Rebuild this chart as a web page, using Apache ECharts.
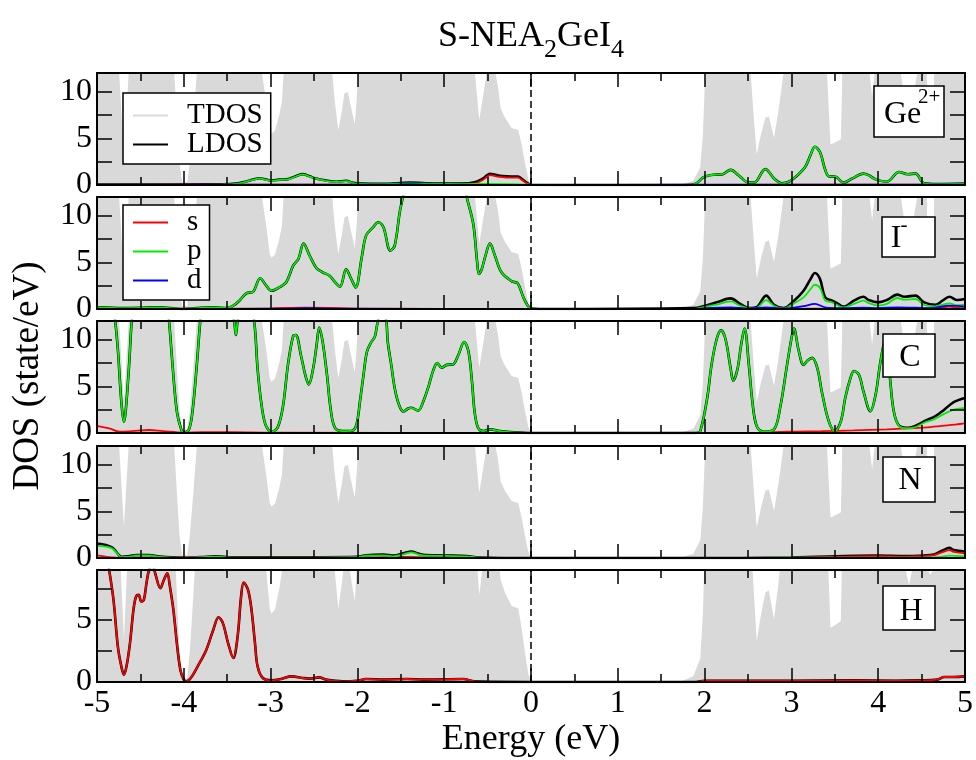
<!DOCTYPE html>
<html>
<head>
<meta charset="utf-8">
<script src="https://cdn.jsdelivr.net/npm/echarts@6/dist/echarts.min.js"></script>
<style>
  html, body { margin: 0; padding: 0; background: #fff; }
  #chart { width: 976px; height: 760px; }
</style>
</head>
<body>
<div id="chart"></div>
<script>
const tdos = [
    [-5.0, 15], [-4.77, 15], [-4.745, 12], [-4.69, 3.4], [-4.635, 12], [-4.61, 15],
    [-4.14, 15], [-4.11, 12], [-4.08, 7], [-4.05, 2.5], [-4.02, 0.3], [-3.96, 0.3], [-3.93, 2.5], [-3.89, 7], [-3.85, 12], [-3.82, 15],
    [-3.13, 15], [-3.10, 12], [-3.05, 8.9], [-3.01, 5.9], [-2.99, 5.5], [-2.95, 5.8], [-2.90, 7.5], [-2.87, 8.9], [-2.85, 12], [-2.82, 15],
    [-2.31, 15], [-2.29, 12], [-2.26, 8.9], [-2.22, 5.9], [-2.18, 7.9], [-2.15, 9.8], [-2.11, 10.0], [-2.08, 8.6], [-2.03, 6.5], [-2.01, 8.9], [-1.99, 12], [-1.97, 15],
    [-0.67, 15], [-0.646, 12], [-0.596, 7.0], [-0.51, 12], [-0.49, 15],
    [-0.43, 15], [-0.41, 12], [-0.377, 10.35], [-0.35, 8.2], [-0.30, 7.2], [-0.223, 6.1], [-0.146, 5.9], [-0.11, 4.4], [-0.07, 2.4], [-0.03, 0.6], [0.0, 0.1], [0.04, 0],
    [1.65, 0], [1.72, 0.03], [1.87, 0.46], [1.95, 1.87], [1.98, 5.4], [2.0, 10.35], [2.01, 12], [2.03, 15],
    [2.51, 15], [2.53, 12], [2.565, 7.5], [2.60, 3.3], [2.65, 5.4], [2.70, 7.2], [2.74, 7.35], [2.80, 5.05], [2.85, 7.9], [2.91, 12], [2.93, 15],
    [3.39, 15], [3.41, 12], [3.45, 4.35], [3.49, 4.5], [3.57, 4.9], [3.58, 8.9], [3.585, 12], [3.60, 15],
    [3.89, 15], [3.90, 12], [3.93, 9.5], [3.96, 12], [3.97, 15],
    [4.24, 15], [4.26, 12], [4.30, 9.5], [4.355, 7.8], [4.40, 9.3], [4.45, 12], [4.47, 15],
    [4.555, 15], [4.565, 9.1], [4.60, 8.6], [4.64, 9.1], [4.65, 15],
    [5.0, 15]
];

// Ge2+
const geS = [[-5, 0.02], [-2, 0.03], [-0.8, 0.05], [-0.65, 0.15], [-0.56, 0.5], [-0.5, 0.92], [-0.47, 1.05], [-0.42, 0.98],
    [-0.36, 0.86], [-0.28, 0.8], [-0.2, 0.78], [-0.15, 0.78], [-0.1, 0.52], [-0.05, 0.18], [0, 0.02], [0.5, 0], [2, 0.02], [5, 0.03]];
const geP = [[-5, 0.02], [-4, 0.02], [-3.55, 0.05], [-3.4, 0.12], [-3.28, 0.35], [-3.2, 0.55], [-3.13, 0.7], [-3.05, 0.55],
    [-2.99, 0.45], [-2.9, 0.55], [-2.8, 0.6], [-2.74, 0.8], [-2.63, 1.13], [-2.55, 0.9], [-2.49, 0.7], [-2.36, 0.45],
    [-2.24, 0.32], [-2.13, 0.42], [-2.05, 0.2], [-1.95, 0.12], [-1.7, 0.1], [-1.4, 0.18], [-1.1, 0.12], [-0.8, 0.1],
    [-0.5, 0.12], [-0.2, 0.1], [-0.05, 0.05], [0, 0], [1.8, 0], [1.9, 0.15], [1.99, 0.85], [2.1, 1.1], [2.2, 1.13],
    [2.3, 1.62], [2.39, 1.05], [2.51, 0.25], [2.57, 0.25], [2.70, 1.7], [2.80, 0.7], [2.89, 0.18], [2.97, 0.35],
    [3.07, 1.05], [3.16, 1.95], [3.22, 3.2], [3.27, 4.1], [3.33, 3.5], [3.39, 1.6], [3.43, 0.95], [3.51, 0.89],
    [3.60, 0.25], [3.70, 0.7], [3.83, 1.22], [3.89, 1.05], [3.97, 0.6], [4.1, 0.35], [4.24, 1.4], [4.34, 1.15],
    [4.43, 1.22], [4.53, 0.18], [4.68, 0.1], [5, 0.15]];
const geD = [[-5, 0.02], [-1.6, 0.05], [-1.4, 0.1], [-1.2, 0.05], [0, 0], [2, 0.03], [5, 0.03]];
const geLdosVb = [[-5, 0.05], [-3.55, 0.08], [-3.4, 0.15], [-3.28, 0.38], [-3.2, 0.58], [-3.13, 0.73], [-3.05, 0.58],
    [-2.99, 0.48], [-2.9, 0.58], [-2.8, 0.63], [-2.74, 0.83], [-2.63, 1.16], [-2.55, 0.93], [-2.49, 0.73], [-2.36, 0.48],
    [-2.24, 0.35], [-2.13, 0.45], [-2.05, 0.23], [-1.95, 0.15], [-1.7, 0.13], [-1.4, 0.25], [-1.1, 0.15], [-0.8, 0.15],
    [-0.65, 0.28], [-0.56, 0.65], [-0.5, 1.08], [-0.47, 1.2], [-0.42, 1.12], [-0.36, 1.0], [-0.28, 0.93], [-0.2, 0.9],
    [-0.15, 0.9], [-0.1, 0.6], [-0.05, 0.25], [0, 0.02], [0.5, 0]];

// I-
const iS = [[-5, 0.02], [-3.0, 0.03], [-2.95, 0.1], [-2.6, 0.15], [-2.2, 0.1], [-2.0, 0.03], [0, 0], [1.9, 0], [2.3, 0.05],
    [4.5, 0.05], [4.7, 0.12], [4.82, 0.25], [4.92, 0.12], [5, 0.1]];
const iP = [[-5, 0.18], [-4.7, 0.1], [-4.5, 0.12], [-4.3, 0.18], [-4.15, 0.1], [-4.0, 0], [-3.85, 0.1], [-3.65, 0.18],
    [-3.5, 0.1], [-3.43, 0.36], [-3.36, 0.89], [-3.28, 1.68], [-3.2, 1.86], [-3.12, 3.3], [-3.05, 2.5], [-2.99, 1.96],
    [-2.9, 2.32], [-2.82, 2.86], [-2.74, 4.64], [-2.68, 5.36], [-2.62, 7.0], [-2.55, 5.71], [-2.47, 4.36], [-2.40, 3.93],
    [-2.32, 3.57], [-2.26, 2.9], [-2.20, 2.39], [-2.13, 4.25], [-2.07, 3.2], [-2.02, 2.32], [-1.95, 5.54], [-1.90, 7.86],
    [-1.82, 8.75], [-1.76, 9.29], [-1.70, 8.75], [-1.62, 6.25], [-1.57, 6.79], [-1.51, 10.5], [-1.46, 12.6], [-1.40, 15],
    [-1.0, 16], [-0.8, 15], [-0.74, 12.0], [-0.665, 9.1], [-0.62, 5], [-0.60, 3.75], [-0.57, 4.2], [-0.53, 5.54],
    [-0.473, 7.0], [-0.415, 5.71], [-0.34, 3.93], [-0.22, 2.96], [-0.154, 2.75], [-0.088, 1.25], [-0.04, 0.4], [0, 0.05],
    [0.1, 0], [1.87, 0], [2.01, 0.25], [2.14, 0.46], [2.30, 0.82], [2.41, 0.35], [2.53, 0.05], [2.6, 0.1], [2.71, 0.96],
    [2.8, 0.32], [2.91, 0.05], [3.03, 0.6], [3.14, 1.25], [3.22, 2.14], [3.27, 2.6], [3.33, 2.25], [3.39, 0.89],
    [3.47, 0.71], [3.60, 0.18], [3.72, 0.54], [3.83, 0.89], [3.89, 0.64], [4.0, 0.36], [4.1, 0.54], [4.22, 1.18],
    [4.30, 1.0], [4.43, 1.07], [4.53, 0.43], [4.66, 0.29], [4.74, 0.45], [4.82, 0.6], [4.91, 0.4], [5, 0.46]];
const iD = [[-5, 0.02], [-2.8, 0.03], [-2.6, 0.08], [-2.3, 0.05], [0, 0], [1.9, 0], [2.01, 0.1], [2.3, 0.18], [2.5, 0.05],
    [2.71, 0.18], [2.9, 0.05], [3.14, 0.3], [3.27, 0.54], [3.4, 0.15], [3.6, 0.08], [3.83, 0.15], [4.0, 0.1], [4.22, 0.18],
    [4.43, 0.15], [4.6, 0.1], [4.82, 0.36], [5, 0.25]];
const iLdosCb = [[1.87, 0.1], [2.01, 0.36], [2.14, 0.71], [2.30, 1.14], [2.41, 0.54], [2.53, 0.1], [2.6, 0.2], [2.71, 1.43],
    [2.8, 0.46], [2.91, 0.1], [3.03, 0.89], [3.14, 1.96], [3.22, 3.2], [3.27, 3.86], [3.33, 3.2], [3.39, 1.25], [3.47, 0.89],
    [3.53, 0.6], [3.60, 0.25], [3.72, 0.89], [3.83, 1.32], [3.89, 0.96], [4.0, 0.71], [4.1, 0.96], [4.22, 1.54], [4.30, 1.32],
    [4.43, 1.43], [4.53, 0.71], [4.66, 0.46], [4.74, 0.89], [4.82, 1.32], [4.91, 0.96], [5, 1.07]];

// C
const cS = [[-5, 0.74], [-4.86, 0.5], [-4.74, 0.14], [-4.6, 0.2], [-4.4, 0.32], [-4.24, 0.2], [-4.0, 0.05], [-3.8, 0.1],
    [-3.4, 0.08], [-3.0, 0.03], [0, 0], [1.9, 0], [2.6, 0.02], [2.95, 0.14], [3.35, 0.2], [3.72, 0.28], [4.1, 0.39],
    [4.33, 0.5], [4.6, 0.64], [4.8, 0.81], [5, 1.02]];
const cP = [[-5, 15], [-4.82, 14], [-4.79, 12], [-4.76, 9.0], [-4.72, 3.4], [-4.69, 1.2], [-4.67, 2.3], [-4.63, 7.3],
    [-4.60, 12], [-4.57, 14], [-4.4, 16], [-4.2, 14], [-4.17, 12], [-4.13, 7.3], [-4.08, 2.3], [-4.03, 0.4], [-4.0, 0.03],
    [-3.94, 0.4], [-3.90, 2.3], [-3.85, 7.3], [-3.81, 12], [-3.78, 14], [-3.6, 16], [-3.45, 13], [-3.42, 12], [-3.40, 10.5],
    [-3.38, 12], [-3.35, 13], [-3.25, 14], [-3.19, 12], [-3.15, 6.9], [-3.11, 3.4], [-3.06, 0.92], [-2.99, 0.14],
    [-2.92, 0.57], [-2.86, 2.7], [-2.80, 7.3], [-2.74, 10.4], [-2.71, 10.5], [-2.65, 8.3], [-2.60, 6.2], [-2.56, 5.2],
    [-2.51, 6.9], [-2.47, 9.4], [-2.44, 11.3], [-2.40, 9.75], [-2.35, 6.2], [-2.31, 2.7], [-2.26, 0.57], [-2.17, 0.2],
    [-2.06, 0.25], [-2.01, 0.92], [-1.97, 3.4], [-1.93, 6.2], [-1.89, 8.7], [-1.84, 9.75], [-1.80, 10.3], [-1.78, 11.2],
    [-1.76, 12.2], [-1.72, 13.5], [-1.67, 12.2], [-1.65, 9.75], [-1.61, 7.3], [-1.57, 4.8], [-1.52, 3.0], [-1.47, 2.3],
    [-1.42, 2.6], [-1.38, 2.7], [-1.30, 2.4], [-1.24, 3.4], [-1.18, 5.0], [-1.13, 6.6], [-1.08, 7.5], [-1.03, 7.0],
    [-0.97, 7.3], [-0.90, 7.35], [-0.84, 8.3], [-0.77, 9.75], [-0.72, 8.7], [-0.68, 5.5], [-0.65, 2.3], [-0.61, 0.57],
    [-0.55, 0.2], [-0.47, 0.39], [-0.36, 0.2], [-0.24, 0.1], [0, 0], [1.9, 0], [1.95, 0.2], [2.03, 3.75], [2.08, 7.3],
    [2.14, 10.1], [2.19, 11.0], [2.24, 10.1], [2.30, 6.9], [2.33, 5.6], [2.38, 6.9], [2.42, 9.4], [2.46, 11.2], [2.51, 7.3],
    [2.55, 3.4], [2.60, 0.74], [2.68, 0.14], [2.80, 0.39], [2.87, 2.7], [2.95, 7.3], [3.0, 10.1], [3.03, 11.2], [3.08, 9.0],
    [3.14, 7.3], [3.19, 7.8], [3.24, 8.05], [3.30, 6.9], [3.35, 4.45], [3.43, 1.27], [3.50, 0.2], [3.57, 1.27], [3.62, 3.75],
    [3.68, 5.87], [3.72, 6.64], [3.78, 6.2], [3.83, 4.45], [3.91, 2.33], [3.97, 4.1], [4.02, 7.3], [4.07, 9.75], [4.10, 10.2],
    [4.12, 8], [4.14, 5.5], [4.18, 2.3], [4.24, 0.74], [4.33, 0.5], [4.41, 0.57], [4.53, 1.1], [4.64, 1.45], [4.76, 2.05],
    [4.87, 2.5], [5, 2.7]];
const cLdosTail = [[4.24, 0.8], [4.35, 0.57], [4.45, 0.85], [4.55, 1.34], [4.66, 1.8], [4.76, 2.5], [4.87, 3.3], [5, 3.75]];

// N
const nS = [[-5, 0.28], [-4.86, 0.1], [-4.7, 0.03], [-1.9, 0.05], [-1.7, 0.1], [-1.4, 0.12], [-1.2, 0.05], [0, 0], [1.9, 0],
    [3.0, 0.02], [4.0, 0.2], [4.3, 0.15], [4.53, 0.2], [4.64, 0.3], [4.74, 0.62], [4.82, 0.85], [4.87, 0.65], [5, 0.5]];
const nP = [[-5, 1.3], [-4.9, 1.22], [-4.82, 1.0], [-4.76, 0.4], [-4.72, 0.1], [-4.62, 0.15], [-4.55, 0.28], [-4.40, 0.28],
    [-4.28, 0.12], [-4.0, 0.02], [-3.8, 0.08], [-3.63, 0.15], [-3.45, 0.05], [-2.5, 0.05], [-2.0, 0.08], [-1.90, 0.25],
    [-1.70, 0.28], [-1.59, 0.18], [-1.45, 0.45], [-1.38, 0.6], [-1.30, 0.4], [-1.24, 0.28], [-1.0, 0.22], [-0.74, 0.18],
    [-0.6, 0.05], [0, 0], [1.9, 0], [3.0, 0.03], [4.5, 0.05], [4.74, 0.15], [4.82, 0.25], [5, 0.18]];
const nLdos = [[-5, 1.55], [-4.9, 1.4], [-4.82, 1.1], [-4.76, 0.45], [-4.72, 0.12], [-4.62, 0.2], [-4.55, 0.32], [-4.40, 0.32],
    [-4.28, 0.15], [-4.0, 0.03], [-3.8, 0.1], [-3.63, 0.18], [-3.45, 0.07], [-2.5, 0.08], [-2.0, 0.12], [-1.90, 0.3],
    [-1.70, 0.36], [-1.59, 0.25], [-1.45, 0.55], [-1.38, 0.7], [-1.30, 0.48], [-1.24, 0.33], [-1.0, 0.27], [-0.74, 0.2],
    [-0.6, 0.06], [0, 0], [1.9, 0], [3.0, 0.05], [4.0, 0.25], [4.3, 0.2], [4.53, 0.27], [4.64, 0.38], [4.74, 0.8],
    [4.82, 1.08], [4.87, 0.85], [5, 0.68]];

// H (s only)
const hS = [[-5, 13], [-4.90, 10.5], [-4.86, 9.0], [-4.81, 6.6], [-4.76, 2.86], [-4.72, 1.26], [-4.69, 0.59], [-4.66, 1.26],
    [-4.62, 3.13], [-4.58, 5.8], [-4.55, 6.87], [-4.52, 7.0], [-4.49, 6.47], [-4.46, 6.6], [-4.43, 7.94], [-4.40, 9.0],
    [-4.36, 9.4], [-4.33, 8.74], [-4.27, 7.54], [-4.23, 8.2], [-4.19, 8.74], [-4.16, 7.67], [-4.12, 5.8], [-4.08, 3.13],
    [-4.04, 0.99], [-4.0, 0.19], [-3.97, 0.05], [-3.92, 0.32], [-3.84, 1.26], [-3.74, 2.6], [-3.66, 4.2], [-3.60, 5.2],
    [-3.55, 4.73], [-3.49, 3.13], [-3.43, 1.93], [-3.38, 3.66], [-3.34, 6.87], [-3.31, 8.0], [-3.26, 7.4], [-3.22, 5.8],
    [-3.18, 3.13], [-3.15, 1.26], [-3.09, 0.32], [-2.99, 0.13], [-2.88, 0.24], [-2.76, 0.45], [-2.63, 0.32], [-2.55, 0.27],
    [-2.44, 0.37], [-2.36, 0.19], [-2.17, 0.05], [-2.0, 0.1], [-1.90, 0.24], [-1.70, 0.19], [-1.43, 0.24], [-1.24, 0.19],
    [-0.78, 0.24], [-0.65, 0.05], [0, 0], [1.9, 0], [2.0, 0.1], [3.0, 0.1], [3.72, 0.13], [4.2, 0.1], [4.49, 0.13],
    [4.68, 0.19], [4.76, 0.4], [4.87, 0.4], [5, 0.45]];

const yMax = [12, 12, 12, 12, 9];
const xTicks = { min: -5, max: 5, step: 1 };

const FONT = 'Liberation Serif';
const GRID_TOPS = [73, 197, 321, 446, 570];
const GRID_H = 112;

// H has only s states: its LDOS is the s curve itself
const panels = [
    { ldos: geLdosVb.concat(geP.filter(pt => pt[0] > 1)), s: geS, p: geP, d: geD },
    { ldos: iP.filter(pt => pt[0] < 1).concat(iLdosCb), s: iS, p: iP, d: iD },
    { ldos: cP.filter(pt => pt[0] < 4.2).concat(cLdosTail), s: cS, p: cP },
    { ldos: nLdos, s: nS, p: nP },
    { ldos: hS, s: hS }
];

const black = '#000';

function xAxisFor(i, pos) {
    const labelled = i === 4 && pos === 'bottom';
    return {
        type: 'value', gridIndex: i, position: pos,
        min: xTicks.min, max: xTicks.max, interval: xTicks.step,
        axisLine: { show: true, onZero: false, lineStyle: { color: black, width: 2 } },
        axisTick: { show: true, inside: true, length: 14, lineStyle: { color: black, width: 1.5 } },
        minorTick: { show: true, splitNumber: 2, length: 8, lineStyle: { color: black, width: 1.5 } },
        splitLine: { show: false },
        minorSplitLine: { show: false },
        axisLabel: {
            show: labelled, color: black, fontFamily: FONT, fontSize: 32, margin: 6,
            showMinLabel: true, showMaxLabel: true
        },
        name: labelled ? 'Energy (eV)' : '',
        nameLocation: 'middle', nameGap: 40,
        nameTextStyle: { color: black, fontFamily: FONT, fontSize: 36 },
        z: 5
    };
}

function yAxisFor(i, pos) {
    return {
        type: 'value', gridIndex: i, position: pos,
        min: 0, max: yMax[i], interval: 2.5,
        axisLine: { show: true, onZero: false, lineStyle: { color: black, width: 2 } },
        axisTick: { show: true, inside: true, length: 15, lineStyle: { color: black, width: 1.5 } },
        splitLine: { show: false },
        axisLabel: {
            show: pos === 'left', color: black, fontFamily: FONT, fontSize: 32, margin: 5,
            formatter: v => (v % 5 === 0 ? String(v) : '')
        },
        z: 5
    };
}

const grids = [], xAxes = [], yAxes = [], series = [];
panels.forEach((pn, i) => {
    grids.push({ left: 97, right: 11, top: GRID_TOPS[i], height: GRID_H, outerBoundsMode: 'none' });
    xAxes.push(xAxisFor(i, 'bottom'), xAxisFor(i, 'top'));
    yAxes.push(yAxisFor(i, 'left'), yAxisFor(i, 'right'));
    const ax = { xAxisIndex: 2 * i, yAxisIndex: 2 * i };

    series.push({
        name: 'TDOS', type: 'line', ...ax, data: tdos, z: 1, silent: true,
        showSymbol: false, lineStyle: { width: 0, opacity: 0 },
        itemStyle: { color: '#d9d9d9' },
        areaStyle: { color: '#d9d9d9', opacity: 1 }
    });
    series.push({
        name: 'LDOS', type: 'line', ...ax, data: pn.ldos, z: 2, silent: true,
        showSymbol: false, smooth: 0.35,
        itemStyle: { color: black }, lineStyle: { color: black, width: 2.6 },
        markLine: {
            silent: true, symbol: ['none', 'none'], label: { show: false },
            lineStyle: { color: black, width: 1.5, type: [7, 4] },
            data: [{ xAxis: 0 }]
        }
    });
    [['s', '#ff0000'], ['p', '#00ee00'], ['d', '#0000ff']].forEach(([k, col]) => {
        if (!pn[k]) return;
        series.push({
            name: k, type: 'line', ...ax, data: pn[k], z: 3, silent: true,
            showSymbol: false, smooth: 0.35,
            itemStyle: { color: col }, lineStyle: { color: col, width: 1.8 }
        });
    });
});

const legendBase = {
    orient: 'vertical', itemGap: 0, itemWidth: 35, itemHeight: 2, icon: 'rect',
    selectedMode: false, borderColor: black, borderWidth: 1.5, backgroundColor: '#fff',
    textStyle: { fontFamily: FONT, fontSize: 29, color: black, lineHeight: 28, padding: [0, 0, 0, 14] },
    z: 10
};

function labelBox(x, y, w, h, texts) {
    return [{ type: 'rect', z: 10, shape: { x, y, width: w, height: h },
        style: { fill: '#fff', stroke: black, lineWidth: 1.5 } }].concat(texts.map(t => ({
        type: 'text', z: 11, x: t[1], y: t[2],
        style: { text: t[0], fontFamily: FONT, fontSize: t[3], fill: black,
            align: t[4] || 'center', verticalAlign: 'middle' }
    })));
}

const graphic = [
    {
        type: 'text', x: 531, y: 19, z: 10,
        style: {
            text: '{a|S-NEA}{b|2}{a|GeI}{b|4}', align: 'center', verticalAlign: 'top', fill: black,
            rich: {
                a: { fontFamily: FONT, fontSize: 36, lineHeight: 36, verticalAlign: 'top', fill: black },
                b: { fontFamily: FONT, fontSize: 26, lineHeight: 26, padding: [18, 0, 0, 0], verticalAlign: 'top', fill: black }
            }
        }
    },
    {
        type: 'text', x: 28, y: 376, rotation: Math.PI / 2, z: 10,
        style: { text: 'DOS (state/eV)', fontFamily: FONT, fontSize: 37, fill: black, align: 'center', verticalAlign: 'middle' }
    }
].concat(
    labelBox(874, 86, 70, 51, [['Ge', 884, 115, 32, 'left'], ['2+', 918, 97, 21, 'left']]),
    labelBox(882, 217, 53, 40, [['I', 896, 239, 32], ['-', 904, 225, 21]]),
    labelBox(883, 334, 52, 43, [['C', 910, 358, 32]]),
    labelBox(883, 457, 52, 45, [['N', 910, 481, 32]]),
    labelBox(883, 586, 52, 44, [['H', 911, 612, 32]])
);

const chart = echarts.init(document.getElementById('chart'));
chart.setOption({
    animation: false,
    backgroundColor: '#fff',
    grid: grids,
    xAxis: xAxes,
    yAxis: yAxes,
    legend: [
        Object.assign({}, legendBase, { data: ['TDOS', 'LDOS'], left: 123, top: 93, padding: [8, 8, 5, 10] }),
        Object.assign({}, legendBase, { data: ['s', 'p', 'd'], left: 123, top: 205, padding: [3, 8, 5, 10] })
    ],
    graphic: graphic,
    series: series
});
</script>
</body>
</html>
